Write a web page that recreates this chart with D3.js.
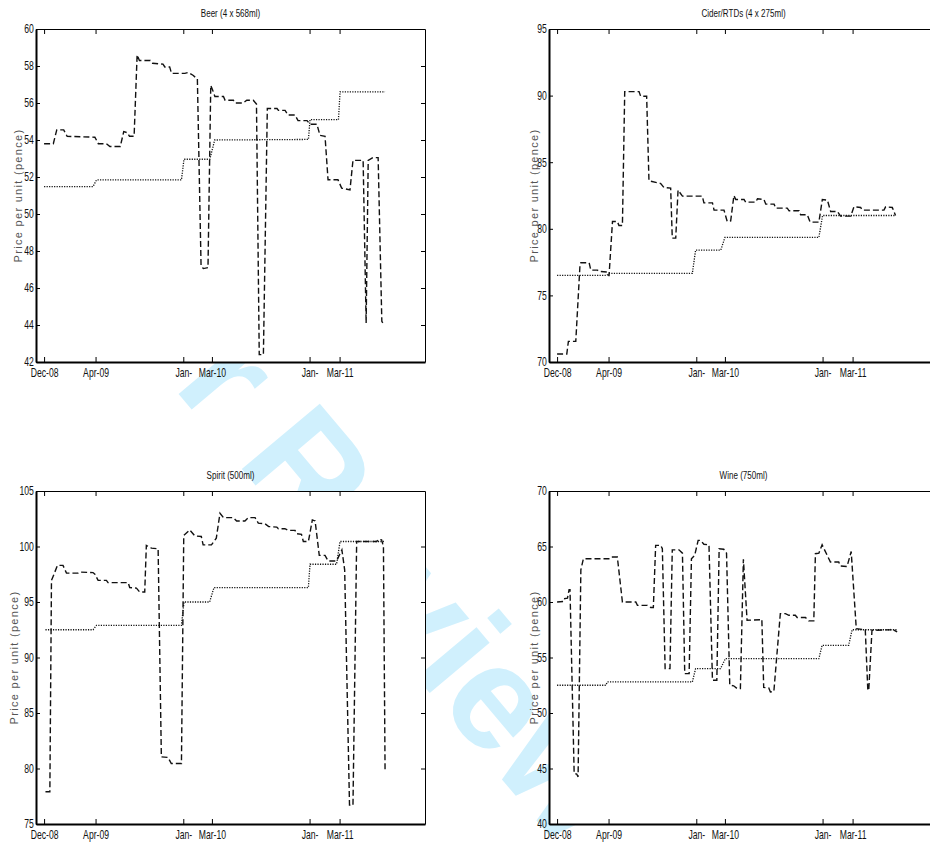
<!DOCTYPE html>
<html>
<head>
<meta charset="utf-8">
<script src="https://d3js.org/d3.v7.min.js"></script>
<style>
body { margin: 0; background: #fff; }
svg text { font-family: "Liberation Sans", Arial, Helvetica, sans-serif; }
</style>
</head>
<body>
<div id="chart"></div>
<script>
// x values are week numbers, 0 = Dec-08
var tickWeeks = [0, 22.3, 60.3, 72.7, 115, 128];
var tickLabels = ["Dec-08", "Apr-09", "Jan-", "Mar-10", "Jan-", "Mar-11"];

// [week, pence] - dashed series
var beerPrice = [[0,53.8],[4,53.8],[5.5,54.55],[8.5,54.55],[10,54.2],[22,54.15],[23.5,53.8],[27,53.8],[28.5,53.65],[33,53.65],[34.5,54.45],[36,54.4],[37,54.2],[39,54.2],[40.3,58.6],[41.3,58.3],[46,58.3],[47,58.15],[51.5,58.1],[52.3,57.95],[54.4,57.95],[55.2,57.6],[61,57.6],[62.4,57.65],[64.5,57.5],[66.4,57.3],[68,47.2],[69,47.05],[71,47.1],[72.2,56.95],[73,56.7],[74,56.35],[77.7,56.35],[78.4,56.15],[82,56.15],[82.8,56.0],[86.2,56.0],[87.8,56.15],[90.6,56.15],[92,55.95],[93.2,42.4],[95,42.4],[96.7,55.7],[100.9,55.7],[101.5,55.6],[104.4,55.6],[105.7,55.35],[108.7,55.35],[110,55.05],[113.9,55.05],[115.2,54.85],[118.2,54.85],[119.5,54.25],[121.7,54.2],[123,51.85],[127.3,51.85],[128.9,51.4],[132.5,51.3],[133.8,52.9],[138.2,52.9],[139.5,44.1],[140.4,52.9],[142.5,53.05],[144.7,53.05],[146.3,44.2],[147.2,44.0]];
var ciderPrice = [[0,70.6],[4.2,70.6],[4.9,71.55],[8.1,71.55],[9.9,77.2],[10.3,77.45],[13.9,77.45],[14.6,76.9],[17.5,76.9],[18.2,76.8],[21.8,76.75],[22.5,76.45],[24,80.55],[26.1,80.55],[26.8,80.25],[28.3,80.25],[29.3,90.3],[35.5,90.3],[36.2,89.95],[38.8,89.95],[39.8,83.6],[44.9,83.4],[46.3,83.1],[49.2,83.05],[49.9,79.3],[51.4,79.3],[52.4,82.9],[54.3,82.45],[62.9,82.45],[63.6,81.95],[67.3,81.95],[68,81.4],[72.3,81.4],[73.7,80.55],[75.2,80.6],[76.6,82.5],[77.4,82.2],[81,82.2],[81.7,82.0],[86,82.0],[86.8,82.25],[89.6,82.2],[90.4,81.85],[94,81.85],[94.7,81.55],[99.7,81.55],[100.5,81.35],[104.8,81.35],[105.5,81.05],[108.4,81.05],[109.6,80.5],[113.4,80.5],[114.9,82.2],[117.1,82.15],[118.5,81.3],[121.4,81.3],[122.8,80.95],[127.2,80.95],[128.6,81.65],[131.5,81.6],[132.2,81.4],[141.6,81.4],[142.3,81.65],[145.2,81.6],[146.6,81.0]];
var spiritPrice = [[0.6,77.9],[2.5,77.9],[3.2,96.95],[3.9,97.3],[5.8,98.3],[8.2,98.3],[9.7,97.6],[14.7,97.6],[15.5,97.7],[21.2,97.65],[22,97.5],[23.4,96.95],[27,96.95],[27.7,96.75],[36.4,96.75],[37.1,96.3],[40,96.25],[41.4,95.9],[43.6,95.9],[44.3,100.1],[46.5,99.85],[49.4,99.8],[50.8,81.05],[53.7,81.0],[55.1,80.45],[59.5,80.45],[60.5,101.0],[63.1,101.5],[65.3,100.95],[68.1,100.9],[68.9,100.15],[72.5,100.15],[74.6,100.75],[76.2,103.0],[77.7,102.6],[82,102.6],[83.4,102.3],[87,102.3],[88.5,102.6],[91.4,102.6],[92.8,102.1],[95.7,102.05],[97.3,101.8],[100.8,101.75],[101.5,101.6],[104.3,101.6],[105.8,101.45],[108.7,101.45],[109.4,101.15],[111.5,101.1],[112.3,100.45],[114.5,100.45],[116.2,102.4],[117.4,102.3],[119.2,99.2],[121.7,99.2],[123,98.7],[126.7,98.7],[129,99.7],[130.2,97.9],[132.3,76.7],[133.8,76.7],[135.4,100.45],[144.1,100.45],[144.8,100.65],[146.2,100.6],[147,100.0],[147.7,79.9]];
var winePrice = [[0,60.0],[3,60.05],[3.3,60.3],[4.5,60.35],[5.2,61.1],[5.6,61.1],[7.4,44.55],[8.5,44.5],[9.1,44.25],[10.3,62.9],[11.4,63.9],[23.3,63.9],[24,64.05],[26.1,64.05],[28.3,60.0],[34.1,60.0],[34.8,59.7],[39.1,59.7],[40.6,59.5],[41.7,59.5],[42.7,65.1],[44.9,65.1],[45.6,64.8],[46.8,54.0],[48.9,54.0],[49.9,64.7],[52.8,64.7],[54.3,64.4],[55.3,53.55],[57.2,53.55],[58.2,63.9],[59.6,64.2],[61.1,65.55],[62.2,65.55],[63.6,65.2],[65.8,65.15],[67.3,52.95],[69.2,52.95],[70.2,64.8],[72.2,64.75],[73.4,64.4],[74.8,52.5],[76.5,52.45],[78,52.2],[79.4,52.2],[80.7,63.85],[82.3,58.35],[88.1,58.4],[88.7,58.45],[89.5,52.3],[91.7,52.25],[92.4,51.9],[93.9,51.95],[96.7,58.95],[98.9,58.95],[100.4,58.8],[103.2,58.8],[104,58.6],[107.6,58.6],[109,58.3],[111.2,58.3],[111.9,64.35],[113.4,64.4],[114.8,65.15],[116.9,64.25],[118.4,63.6],[122,63.6],[122.7,63.25],[125.6,63.2],[127.4,64.55],[129.6,57.6],[133.5,57.5],[134.6,52.05],[135,52.05],[136.4,57.45],[144.4,57.5],[145.1,57.55],[147.3,57.3]];

// [week, pence] - dotted step series
var beerRef = [[0,51.48],[21.2,51.48],[22.7,51.84],[59.5,51.84],[60.6,52.96],[71.8,52.96],[73.9,54.0],[114.5,54.03],[115.2,55.1],[127.5,55.1],[128.2,56.6],[147.7,56.6]];
var ciderRef = [[0,76.5],[21.5,76.5],[22.5,76.65],[58.6,76.65],[60,78.4],[70.9,78.4],[72.7,79.35],[113.4,79.35],[115,81.0],[146.6,81.0]];
var spiritRef = [[0.6,92.5],[21.2,92.5],[22.7,92.9],[59.5,92.9],[60.6,95.0],[71.7,95.0],[73.6,96.3],[114.5,96.3],[115.2,98.4],[126.7,98.4],[128.2,100.45],[147.2,100.45]];
var wineRef = [[0,52.5],[21.1,52.5],[21.8,52.8],[58.6,52.8],[60,54.0],[70.8,54.0],[72.9,54.9],[113.4,54.9],[114.8,56.1],[126.3,56.1],[127.8,57.5],[147.3,57.5]];

var titles = ["Beer (4 x 568ml)", "Cider/RTDs (4 x 275ml)", "Spirit (500ml)", "Wine (750ml)"];
var yDomains = [[42, 60], [70, 95], [75, 105], [40, 70]];
var yTickSteps = [2, 5, 5, 5];
var yLabel = "Price per unit (pence)";

var svg = d3.select("#chart").append("svg")
    .attr("width", 930)
    .attr("height", 846);

// faint review watermark, sits under the white plot areas
svg.append("text")
    .attr("transform", "translate(172,386) rotate(50)")
    .attr("font-size", 148)
    .attr("font-weight", "bold")
    .attr("fill", "#d0f0fd")
    .text("r Review");

var NARROW = "scale(0.72,1)";

function PricePlot(_svg, _cfg){
    this.svg = _svg;
    this.cfg = _cfg;
    this.initVis();
}

PricePlot.prototype.initVis = function(){
    var vis = this;
    var c = vis.cfg;
    vis.width = 389;
    vis.height = 333;

    vis.g = vis.svg.append("g")
        .attr("transform", "translate(" + c.left + "," + c.top + ")");

    vis.x = d3.scaleLinear().domain([-3.5, 165]).range([0, vis.width]);
    vis.y = d3.scaleLinear().domain(c.yDomain).range([vis.height, 0]);

    vis.g.append("rect")
        .attr("width", vis.width)
        .attr("height", vis.height)
        .attr("fill", "#fff");

    vis.g.append("text")
        .attr("transform", "translate(" + (vis.width / 2) + ",-12) scale(0.7,1)")
        .attr("text-anchor", "middle")
        .attr("font-size", 11.5)
        .attr("fill", "#111")
        .text(c.title);

    vis.g.append("text")
        .attr("transform", "translate(" + (-c.labelOff) + "," + (vis.height / 2) + ") rotate(-90)")
        .attr("text-anchor", "middle")
        .attr("font-size", 11)
        .attr("letter-spacing", 1.3)
        .attr("fill", "#555")
        .text(yLabel);

    vis.updateVis();
}

PricePlot.prototype.updateVis = function(){
    var vis = this;
    var c = vis.cfg;
    var yTicks = d3.range(c.yDomain[0], c.yDomain[1] + 0.01, c.yStep);

    var line = d3.line()
        .x(function(d){ return vis.x(d[0]); })
        .y(function(d){ return vis.y(d[1]); });

    vis.g.append("path")
        .datum(c.ref)
        .attr("d", line)
        .attr("fill", "none")
        .attr("stroke", "#111")
        .attr("stroke-width", 1.3)
        .attr("stroke-dasharray", "1.2,1.3");

    vis.g.append("path")
        .datum(c.price)
        .attr("d", line)
        .attr("fill", "none")
        .attr("stroke", "#111")
        .attr("stroke-width", 1.4)
        .attr("stroke-dasharray", "6,3");

    var axes = [
        {ax: d3.axisLeft(vis.y).tickValues(yTicks).tickFormat(d3.format("d")).tickSize(-4).tickPadding(3), tr: "translate(0,0)", w: 2},
        {ax: d3.axisRight(vis.y).tickValues(yTicks).tickFormat("").tickSize(-4), tr: "translate(" + vis.width + ",0)", w: 1},
        {ax: d3.axisTop(vis.x).tickValues(tickWeeks).tickFormat("").tickSize(-5), tr: "translate(0,0)", w: 1.2},
        {ax: d3.axisBottom(vis.x).tickValues(tickWeeks).tickFormat(function(d, i){ return tickLabels[i]; }).tickSize(-5).tickPadding(6.5), tr: "translate(0," + vis.height + ")", w: 2}
    ];
    axes.forEach(function(a){
        var g = vis.g.append("g")
            .attr("transform", a.tr)
            .call(a.ax.tickSizeOuter(0));
        g.attr("font-family", null);
        g.select(".domain").attr("stroke-width", a.w).attr("stroke", "#000");
        g.selectAll(".tick line").attr("stroke", "#000");
        g.selectAll(".tick text")
            .attr("font-size", 12)
            .attr("fill", "#111")
            .attr("transform", NARROW);
    });
}

var panelPos = [
    {left: 36, top: 29, labelOff: 14},
    {left: 549, top: 29, labelOff: 11},
    {left: 36, top: 491, labelOff: 18},
    {left: 549, top: 491, labelOff: 11}
];
var prices = [beerPrice, ciderPrice, spiritPrice, winePrice];
var refs = [beerRef, ciderRef, spiritRef, wineRef];

var plots = titles.map(function(t, i){
    return new PricePlot(svg, {
        title: t,
        yDomain: yDomains[i],
        yStep: yTickSteps[i],
        price: prices[i],
        ref: refs[i],
        left: panelPos[i].left,
        top: panelPos[i].top,
        labelOff: panelPos[i].labelOff
    });
});
</script>
</body>
</html>
